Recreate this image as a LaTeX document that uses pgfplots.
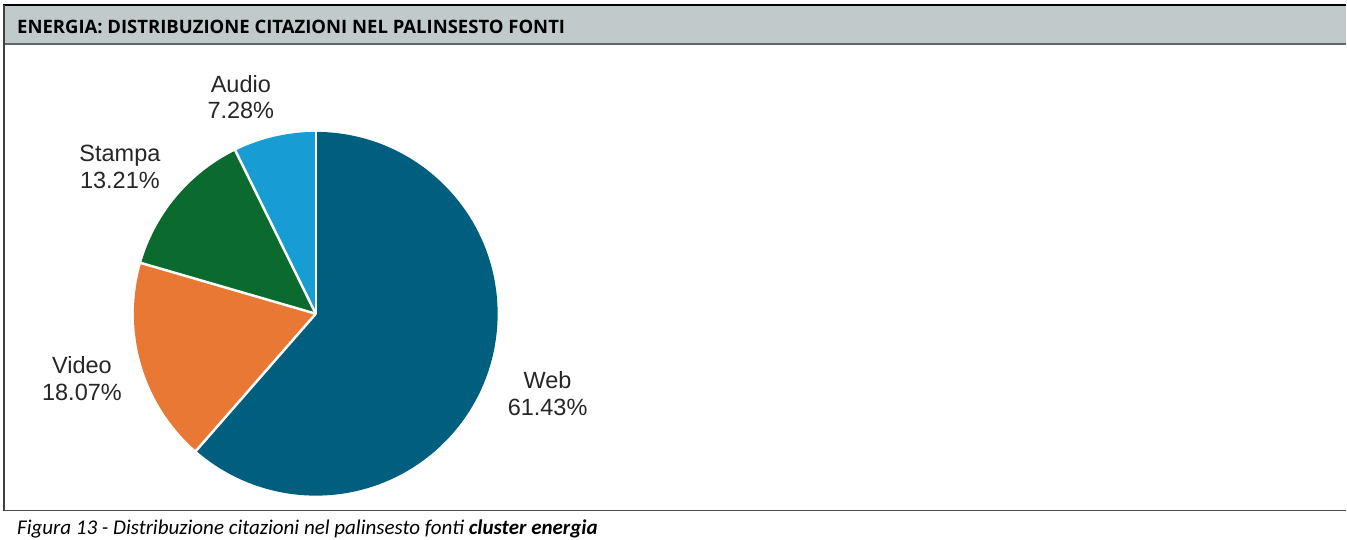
\documentclass[border=0pt]{standalone}
\usepackage{pgfplots}
\pgfplotsset{compat=1.18}
\usepackage{fontspec}
\setmainfont{Carlito}
\newfontfamily\arial{Liberation Sans}
\newfontfamily\hdrfont{Open Sans}
\definecolor{cweb}{HTML}{005F7F}
\definecolor{cvideo}{HTML}{E97834}
\definecolor{cstampa}{HTML}{0B6B2F}
\definecolor{caudio}{HTML}{179CD3}
\definecolor{hdr}{HTML}{C0CACB}
\definecolor{hdrline}{HTML}{5F6767}
\begin{document}
\begin{tikzpicture}[x=1pt,y=1pt]
% data (percent)
\def\vWeb{61.43}\def\vVideo{18.07}\def\vStampa{13.21}\def\vAudio{7.28}
\pgfmathsetmacro\aA{90}
\pgfmathsetmacro\aB{\aA-3.6*\vWeb}
\pgfmathsetmacro\aC{\aB-3.6*\vVideo}
\pgfmathsetmacro\aD{\aC-3.6*\vStampa}
\pgfmathsetmacro\aE{\aD-3.6*\vAudio}
\path (0,0) rectangle (1347,540);
% frame
\fill[hdr] (4,535) rectangle (1347,496);
\draw[black,line width=1.5pt] (3.5,535) -- (1347,535);
\draw[hdrline,line width=2pt] (4,496) -- (1347,496);
\draw[black!75,line width=1.2pt] (4,535) -- (4,29);
\draw[black!70,line width=1.5pt] (4,29) -- (1347,29);
\node[anchor=base west,inner sep=0pt,font=\hdrfont\fontsize{18.5}{22}\selectfont\bfseries] at (17,506) {ENERGIA: DISTRIBUZIONE CITAZIONI NEL PALINSESTO FONTI};
\node[anchor=base west,font=\fontsize{21}{25}\selectfont\itshape,inner sep=0pt] at (17,5) {Figura 13 - Distribuzione citazioni nel palinsesto fonti \textbf{cluster energia}};
\begin{axis}[at={(0,0)},anchor=south west,scale only axis,width=1347pt,height=540pt,
  xmin=0,xmax=1347,ymin=0,ymax=540,hide axis,clip=false]
\fill[cweb] (axis cs:316,226) -- +(\aA:182) arc[start angle=\aA,end angle=\aB,radius=182] -- cycle;
\fill[cvideo] (axis cs:316,226) -- +(\aB:182) arc[start angle=\aB,end angle=\aC,radius=182] -- cycle;
\fill[cstampa] (axis cs:316,226) -- +(\aC:182) arc[start angle=\aC,end angle=\aD,radius=182] -- cycle;
\fill[caudio] (axis cs:316,226) -- +(\aD:182) arc[start angle=\aD,end angle=\aE,radius=182] -- cycle;
\draw[white,line width=2.5pt] (axis cs:316,226) -- +(\aA:183);
\draw[white,line width=2.5pt] (axis cs:316,226) -- +(\aB:183);
\draw[white,line width=2.5pt] (axis cs:316,226) -- +(\aC:183);
\draw[white,line width=2.5pt] (axis cs:316,226) -- +(\aD:183);
\node[font=\arial\fontsize{23.5}{26.5}\selectfont,align=center,text=black!85] at (axis cs:548,146) {Web\\61.43\%};
\node[font=\arial\fontsize{23.5}{26.5}\selectfont,align=center,text=black!85] at (axis cs:82,161) {Video\\18.07\%};
\node[font=\arial\fontsize{23.5}{26.5}\selectfont,align=center,text=black!85] at (axis cs:120,373) {Stampa\\13.21\%};
\node[font=\arial\fontsize{23.5}{26.5}\selectfont,align=center,text=black!85] at (axis cs:241,443) {Audio\\7.28\%};
\end{axis}
\end{tikzpicture}
\end{document}
